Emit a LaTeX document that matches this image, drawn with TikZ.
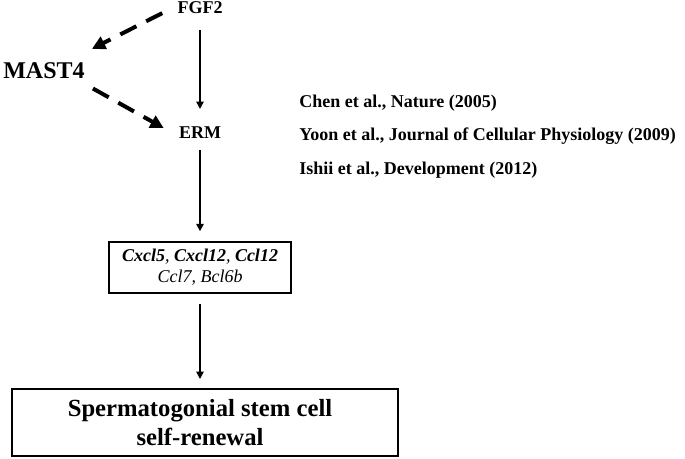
\documentclass[tikz,border=0pt]{standalone}
\usepackage{fontspec}
\setmainfont{Liberation Serif}
\usetikzlibrary{arrows.meta,calc}
\begin{document}
\begin{tikzpicture}[x=0.75pt,y=0.75pt,yscale=-1,xscale=1,
  lbl/.style={inner sep=0.75pt,font=\fontsize{13.5}{16}\selectfont\bfseries},
  ref/.style={lbl,anchor=base west},
  dasharrow/.style={line width=3pt,dash pattern={on 13.5pt off 8.25pt},-{Triangle[length=10pt,width=10pt]}},
  flow/.style={line width=1.2pt,-{Triangle[length=5.5pt,width=5.5pt]}},
  genebox/.style={draw,line width=1.1pt,align=center,minimum width=136.5pt,minimum height=38.25pt,inner sep=0pt,font=\fontsize{13.5}{15.75}\selectfont\itshape},
  sscbox/.style={draw,line width=1.5pt,align=center,minimum width=289.5pt,minimum height=50.25pt,inner sep=0pt,font=\fontsize{18.5}{21.75}\selectfont\bfseries}]
\useasboundingbox (0,0) rectangle (685,458);

% Text Node
\node (fgf) [lbl,anchor=base] at (200,13) {FGF2};
% Text Node
\node (erm) [lbl,anchor=base] at (200,138) {ERM};
% Text Node
\node (mast) [lbl,anchor=base,font=\fontsize{18}{21}\selectfont\bfseries] at (44,78) {MAST4};
% Text Node
\node (chen) [ref] at (298,107) {Chen et al., Nature (2005)};
% Text Node
\node (yoon) [ref] at (298,140) {Yoon et al., Journal of Cellular Physiology (2009)};
% Text Node
\node (ishii) [ref] at (298,174) {Ishii et al., Development (2012)};

%Shape: Rectangle
\node (genes) [genebox] at (200,267.5) {{\bfseries Cxcl5}, {\bfseries Cxcl12}, {\bfseries Ccl12}\\Ccl7, Bcl6b};
%Shape: Rectangle
\node (ssc) [sscbox] at (205,422.5) {Spermatogonial stem cell\hspace*{7.5pt}\\self-renewal\hspace*{7.5pt}};

%Straight Lines
\draw [dasharrow] ($(fgf.west)+(-14,6)$) -- ($(mast.north east)+(6,-12)$);
\draw [dasharrow] ($(mast.south east)+(7,9)$) -- ($(erm.west)+(-14,-4)$);
%Straight Lines
\draw [flow,shorten <=12pt,shorten >=12pt] (fgf) -- (erm);
\draw [flow,shorten <=8.25pt,shorten >=7.5pt] (erm) -- (genes);
\draw [flow,shorten <=7.5pt,shorten >=6.75pt] (genes.south) -- (genes.south |- ssc.north);
\end{tikzpicture}
\end{document}
